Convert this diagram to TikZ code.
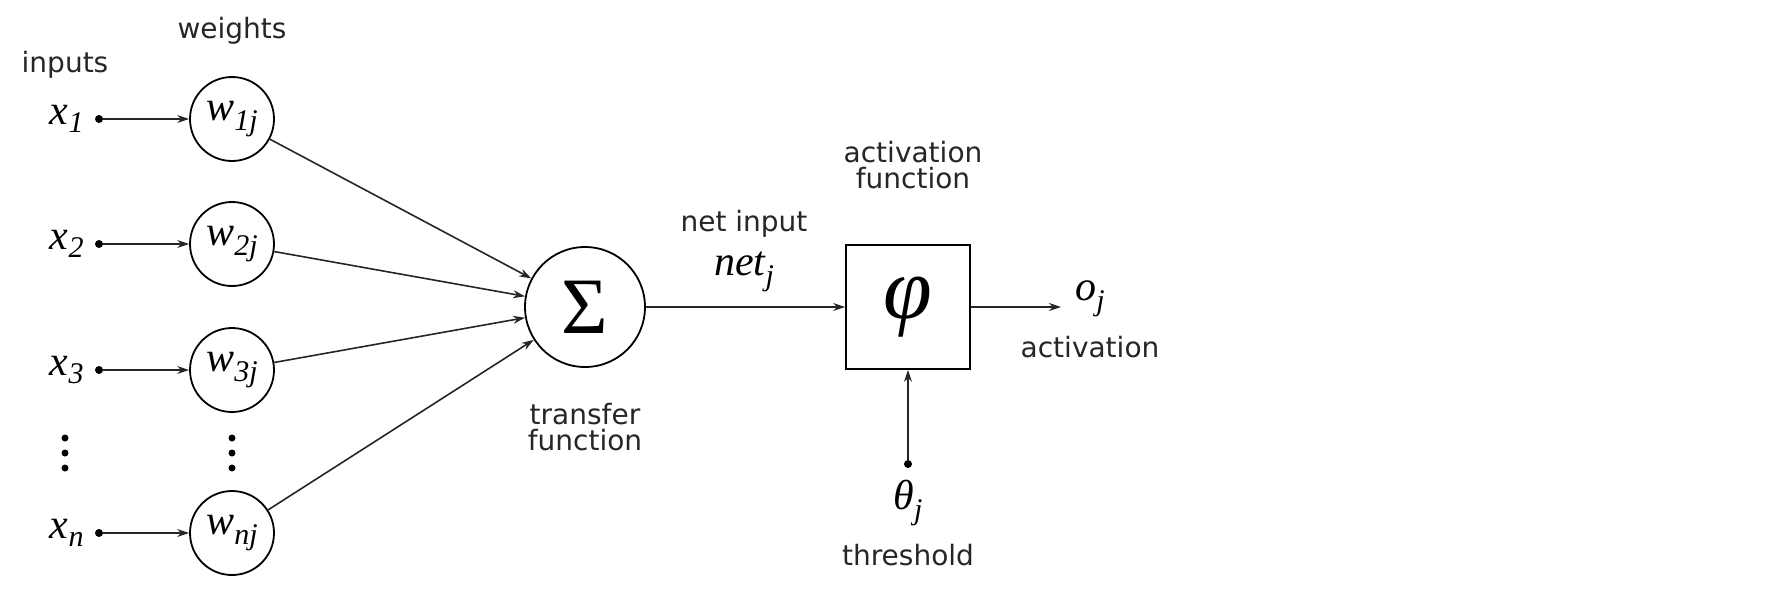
\documentclass[tikz,border=0pt]{standalone}
\usepackage{fontspec}
\setsansfont{DejaVu Sans}
\newfontfamily\serit{Liberation Serif}
\usetikzlibrary{arrows.meta}
\begin{document}
\begin{tikzpicture}[x=0.5pt,y=-0.5pt,
  lbl/.style={font=\sffamily\fontsize{14}{15}\selectfont,align=center,inner sep=0pt,text=black!85},
  var/.style={font=\serit\itshape\fontsize{21}{22}\selectfont,inner sep=0pt},
  wc/.style={circle,draw,line width=0.9pt,minimum size=42pt,inner sep=0pt,font=\serit\itshape\fontsize{21}{22}\selectfont},
  pt/.style={circle,fill,inner sep=0pt,minimum size=4pt},
  sd/.style={circle,fill,inner sep=0pt,minimum size=3.5pt},
  arr/.style={-{Stealth[length=6pt,width=4pt]},line width=0.8pt,black!85}]
\useasboundingbox (0,0) rectangle (1780,590);
\node[lbl] (inputs) at (65,65) {inputs};
\node[lbl] (weights) at (232,31) {weights};
\foreach \i/\y/\s in {1/119/1,2/244/2,3/370/3,n/533/n}{
  \node[var,anchor=east] (x\i) at (84,\y) {x\raisebox{-4pt}{\fontsize{15}{16}\selectfont\s}};
  \node[pt] (d\i) at (99,\y) {};
  \node[wc] (w\i) at (232,\y) {w\raisebox{-5pt}{\fontsize{15}{16}\selectfont\s j}};
  \draw[arr] (d\i) -- (w\i);
}
\foreach \xx/\nm in {65/a,232/b}{
  \node[sd] (\nm1) at (\xx,438) {};
  \node[sd] (\nm2) at (\xx,453) {};
  \node[sd] (\nm3) at (\xx,468) {};
}
\node[circle,draw,line width=0.9pt,minimum size=60pt,inner sep=0pt,font=\serit\fontsize{40}{42}\selectfont] (sum) at (585,307) {Σ};
\foreach \i in {1,2,3,n}{ \draw[arr] (w\i) -- (sum); }
\node[lbl] (tf) at (585,427) {transfer\\[-2pt]function};
\node[draw,line width=0.9pt,minimum size=62pt,inner sep=0pt,font=\serit\itshape\fontsize{44}{46}\selectfont] (phi) at (908,307) {φ};
\draw[arr] (sum) -- (phi);
\node[lbl] (ni) at (744,224) {net input};
\node[var] (netj) at (744,272) {net\raisebox{-5pt}{\fontsize{15}{16}\selectfont j}};
\node[lbl] (af) at (913,165) {activation\\[-2pt]function};
\coordinate (out) at (1061,307);
\draw[arr] (phi) -- (out);
\node[var] (oj) at (1090,299) {o\raisebox{-5pt}{\fontsize{15}{16}\selectfont j}};
\node[lbl] (act) at (1090,347) {activation};
\node[pt] (th) at (908,464) {};
\draw[arr] (th) -- (phi);
\node[var] (thj) at (908,503) {θ\raisebox{-5pt}{\fontsize{15}{16}\selectfont j}};
\node[lbl] (thr) at (908,555) {threshold};
\end{tikzpicture}
\end{document}
